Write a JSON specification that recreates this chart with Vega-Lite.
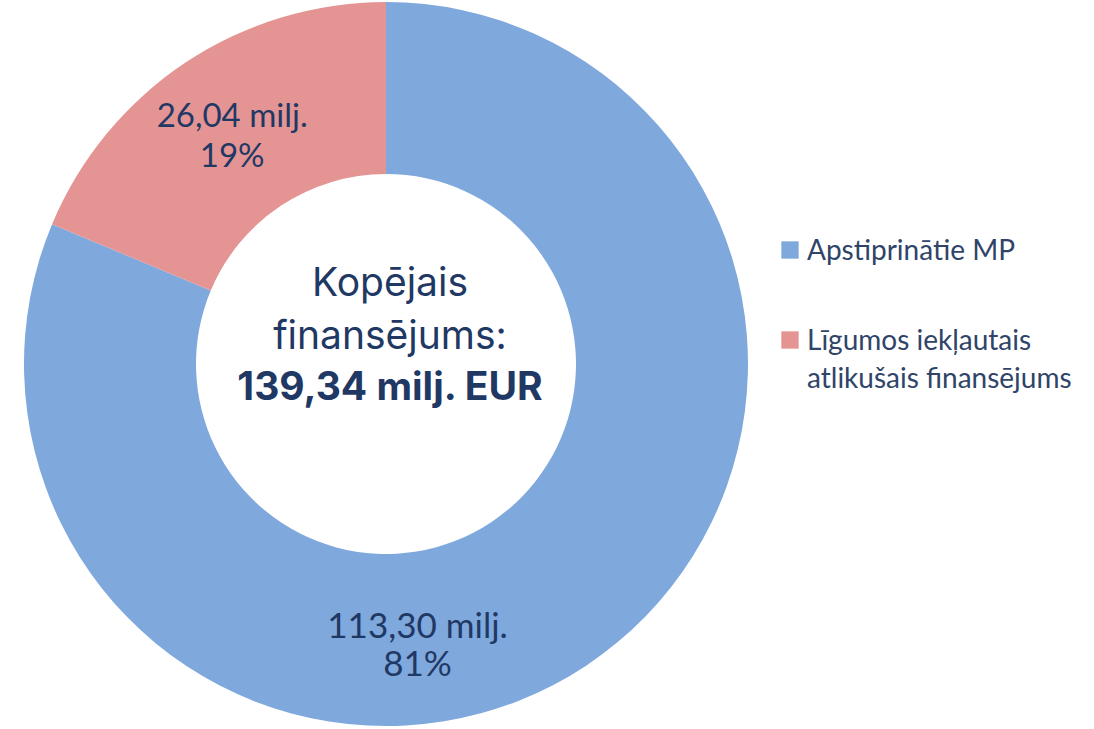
{
  "$schema": "https://vega.github.io/schema/vega-lite/v6.json",
  "width": 772,
  "height": 728,
  "padding": 0,
  "autosize": {"type": "pad"},
  "background": "white",
  "config": {"view": {"stroke": null}},
  "data": {
    "values": [
      {"category": "Apstiprinātie MP", "value": 113.30, "label": "113,30 milj.\n81%"},
      {"category": "Līgumos iekļautais atlikušais finansējums", "value": 26.04, "label": "26,04 milj.\n19%"}
    ]
  },
  "encoding": {
    "theta": {"field": "value", "type": "quantitative", "stack": true},
    "color": {
      "field": "category",
      "type": "nominal",
      "scale": {
        "domain": ["Apstiprinātie MP", "Līgumos iekļautais atlikušais finansējums"],
        "range": ["#7FA8DD", "#E59494"]
      },
      "legend": {
        "title": null,
        "orient": "none",
        "legendX": 776,
        "legendY": 236,
        "symbolType": "square",
        "symbolSize": 300,
        "symbolStrokeWidth": 0,
        "labelFont": "Lato",
        "labelFontSize": 28,
        "labelColor": "#2F4468",
        "labelLimit": 400,
        "labelOffset": 3,
        "labelLineHeight": 38,
        "rowPadding": 60,
        "labelBaseline": "alphabetic",
        "labelExpr": "datum.label == 'Līgumos iekļautais atlikušais finansējums' ? ['Līgumos iekļautais', 'atlikušais finansējums'] : datum.label",
        "encode": {
          "labels": {"update": {"dy": {"value": 10}, "lineHeight": {"value": 38}}}
        }
      }
    }
  },
  "layer": [
    {
      "mark": {"type": "arc", "radius": 362, "radius2": 190}
    },
    {
      "transform": [{"filter": "datum.category == 'Līgumos iekļautais atlikušais finansējums'"}],
      "mark": {"type": "text", "radius": 274, "thetaOffset": 5.1, "font": "Lato", "fontSize": 33, "color": "#1F3864", "lineBreak": "\n", "lineHeight": 40, "baseline": "middle", "align": "center", "dy": -20},
      "encoding": {"text": {"field": "label"}, "color": {"value": "#1F3864"}}
    },
    {
      "transform": [{"filter": "datum.category == 'Apstiprinātie MP'"}],
      "mark": {"type": "text", "radius": 282, "thetaOffset": 0.475, "font": "Lato", "fontSize": 35, "color": "#1F3864", "lineBreak": "\n", "lineHeight": 38, "baseline": "middle", "align": "center", "dy": -17},
      "encoding": {"text": {"field": "label"}, "color": {"value": "#1F3864"}}
    },
    {
      "data": {"values": [{"line": "Kopējais\nfinansējums:"}]},
      "mark": {"type": "text", "font": "Inter", "fontSize": 39, "color": "#1F3864", "lineBreak": "\n", "lineHeight": 53, "baseline": "middle", "align": "center", "dx": 4, "dy": -80},
      "encoding": {"text": {"field": "line"}, "theta": null, "color": null}
    },
    {
      "data": {"values": [{"line": "139,34 milj. EUR"}]},
      "mark": {"type": "text", "font": "Inter", "fontSize": 39, "fontWeight": "bold", "color": "#1F3864", "baseline": "middle", "align": "center", "dx": 4, "dy": 24},
      "encoding": {"text": {"field": "line"}, "theta": null, "color": null}
    }
  ]
}
